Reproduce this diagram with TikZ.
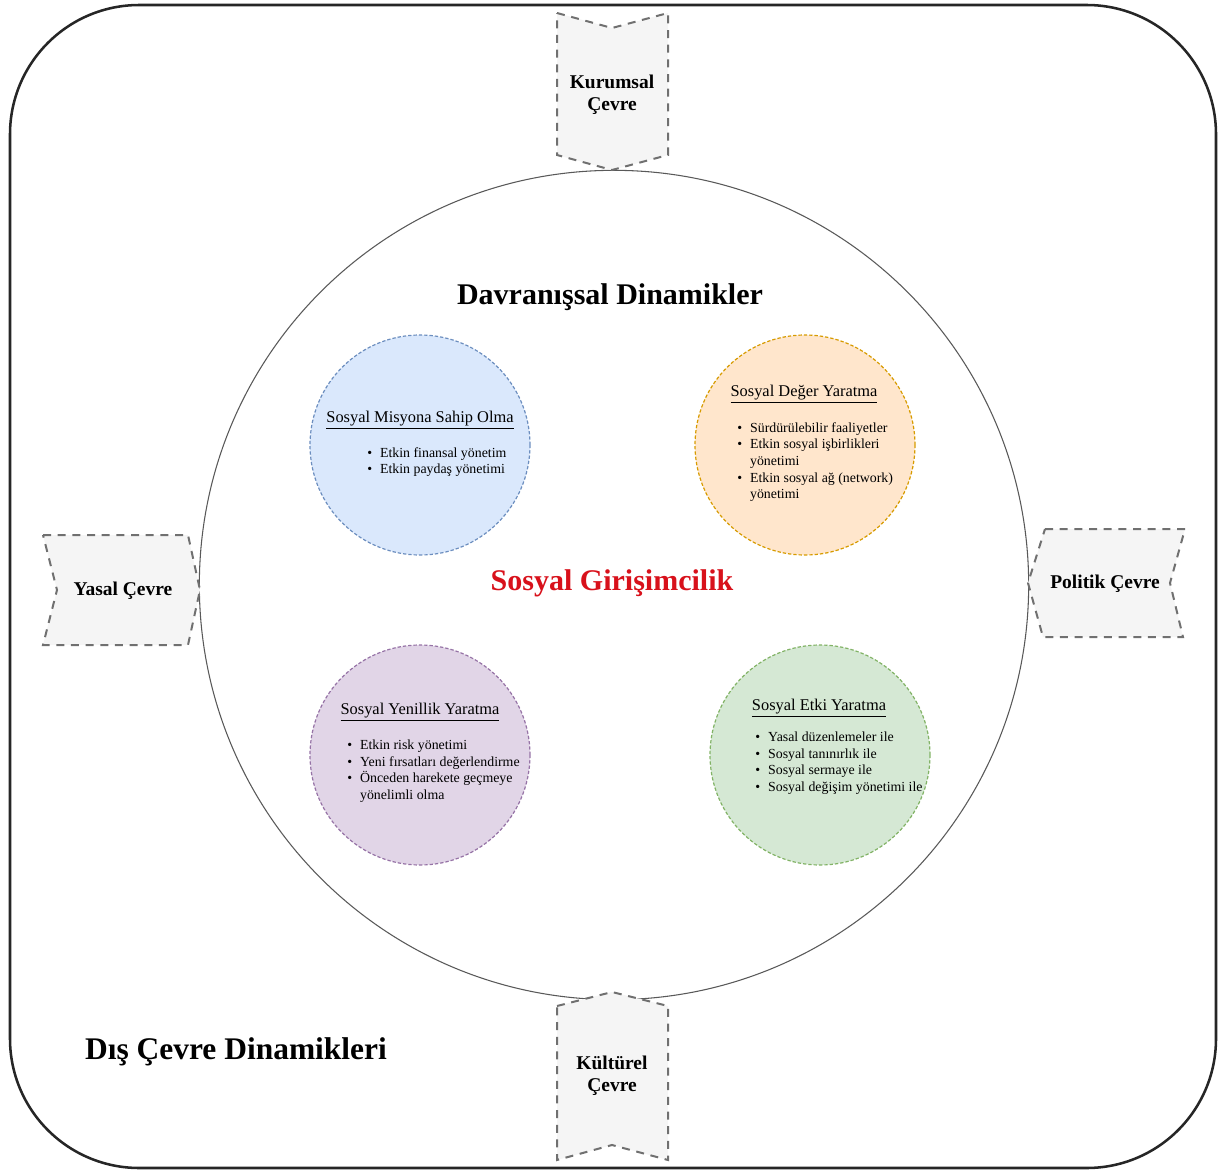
\documentclass[tikz,border=0pt]{standalone}
\usepackage{fontspec}
\setmainfont{Liberation Serif}
\usetikzlibrary{positioning}
\definecolor{bluefill}{HTML}{DAE8FC}\definecolor{blueline}{HTML}{6C8EBF}
\definecolor{orangefill}{HTML}{FFE6CC}\definecolor{orangeline}{HTML}{D79B00}
\definecolor{purplefill}{HTML}{E1D5E7}\definecolor{purpleline}{HTML}{9673A6}
\definecolor{greenfill}{HTML}{D5E8D4}\definecolor{greenline}{HTML}{82B366}
\definecolor{bannerfill}{HTML}{F5F5F5}\definecolor{bannerline}{HTML}{707070}
\definecolor{titlered}{HTML}{D8111B}
\begin{document}
\begin{tikzpicture}[x=0.75pt,y=-0.75pt]
      \tikzset{banner/.style={draw=bannerline, fill=bannerfill, line width=1.5pt, dash pattern=on 6pt off 5pt},
        bannertext/.style={font=\fontsize{14.6}{16.5}\selectfont\bfseries, align=center},
        dyn/.style={circle, line width=0.9pt, dash pattern=on 2.5pt off 1.5pt, minimum size=165pt},
        dyntitle/.style={font=\fontsize{12.3}{14}\selectfont},
        dynlist/.style={anchor=west, font=\fontsize{10.4}{12.5}\selectfont, inner sep=0pt},
        heading/.style={font=\fontsize{22.5}{26}\selectfont\bfseries}}
      \useasboundingbox (0,0) rectangle (1222,1174);
      \draw[line width=1.9pt, draw=black!85, rounded corners=97pt] (10,5) rectangle (1216,1168);
      \node[circle, draw=black!65, line width=0.8pt, minimum size=622pt] (davranis) at (614,585) {};

      \draw[banner] (557,13) -- (612,28) -- (668,13) -- (668,155) -- (612,170) -- (557,155) -- cycle;
      \draw[banner] (557,1006) -- (612,992) -- (668,1006) -- (668,1160) -- (612,1145) -- (557,1160) -- cycle;
      \draw[banner] (43,535) -- (188,535) -- (200,590) -- (188,645) -- (43,645) -- (57,590) -- cycle;
      \draw[banner] (1045,529) -- (1185,529) -- (1170,583) -- (1183,637) -- (1043,637) -- (1028,583) -- cycle;
      \node[bannertext] (kurumsal) at (612,95) {Kurumsal\\Çevre};
      \node[bannertext] (kulturel) at (612,1076) {Kültürel\\Çevre};
      \node[bannertext] (yasal) at (123,591) {Yasal Çevre};
      \node[bannertext] (politik) at (1105,584) {Politik Çevre};

      \node[heading] (davbaslik) at (610,297) {Davranışsal Dinamikler};
      \node[heading, text=titlered] (girisim) at (612,583) {Sosyal Girişimcilik};
      \node[heading, font=\fontsize{23.6}{27}\selectfont\bfseries] (dis) at (236,1052) {Dış Çevre Dinamikleri};

      \node[dyn, fill=bluefill, draw=blueline] (misyon) at (420,445) {};
      \node[dyn, fill=orangefill, draw=orangeline] (deger) at (805,445) {};
      \node[dyn, fill=purplefill, draw=purpleline] (yenilik) at (420,755) {};
      \node[dyn, fill=greenfill, draw=greenline] (etki) at (820,755) {};

      \node[dyntitle] (misyonbaslik) at (420,420) {\underline{Sosyal Misyona Sahip Olma}};
      \node[dynlist] (misyonliste) at (367,462) {\begin{tabular}{@{}l@{\hspace{6pt}}l@{}}
        \textbullet & Etkin finansal yönetim\\
        \textbullet & Etkin paydaş yönetimi\end{tabular}};
      \node[dyntitle] (degerbaslik) at (804,394) {\underline{Sosyal Değer Yaratma}};
      \node[dynlist] (degerliste) at (737,462) {\begin{tabular}{@{}l@{\hspace{6pt}}l@{}}
        \textbullet & Sürdürülebilir faaliyetler\\
        \textbullet & Etkin sosyal işbirlikleri\\
        & yönetimi\\
        \textbullet & Etkin sosyal ağ (network)\\
        & yönetimi\end{tabular}};
      \node[dyntitle] (yenilikbaslik) at (420,712) {\underline{Sosyal Yenillik Yaratma}};
      \node[dynlist] (yenilikliste) at (347,771) {\begin{tabular}{@{}l@{\hspace{6pt}}l@{}}
        \textbullet & Etkin risk yönetimi\\
        \textbullet & Yeni fırsatları değerlendirme\\
        \textbullet & Önceden harekete geçmeye\\
        & yönelimli olma\end{tabular}};
      \node[dyntitle] (etkibaslik) at (819,708) {\underline{Sosyal Etki Yaratma}};
      \node[dynlist] (etkiliste) at (755,763) {\begin{tabular}{@{}l@{\hspace{6pt}}l@{}}
        \textbullet & Yasal düzenlemeler ile\\
        \textbullet & Sosyal tanınırlık ile\\
        \textbullet & Sosyal sermaye ile\\
        \textbullet & Sosyal değişim yönetimi ile\end{tabular}};
    \end{tikzpicture}
\end{document}
